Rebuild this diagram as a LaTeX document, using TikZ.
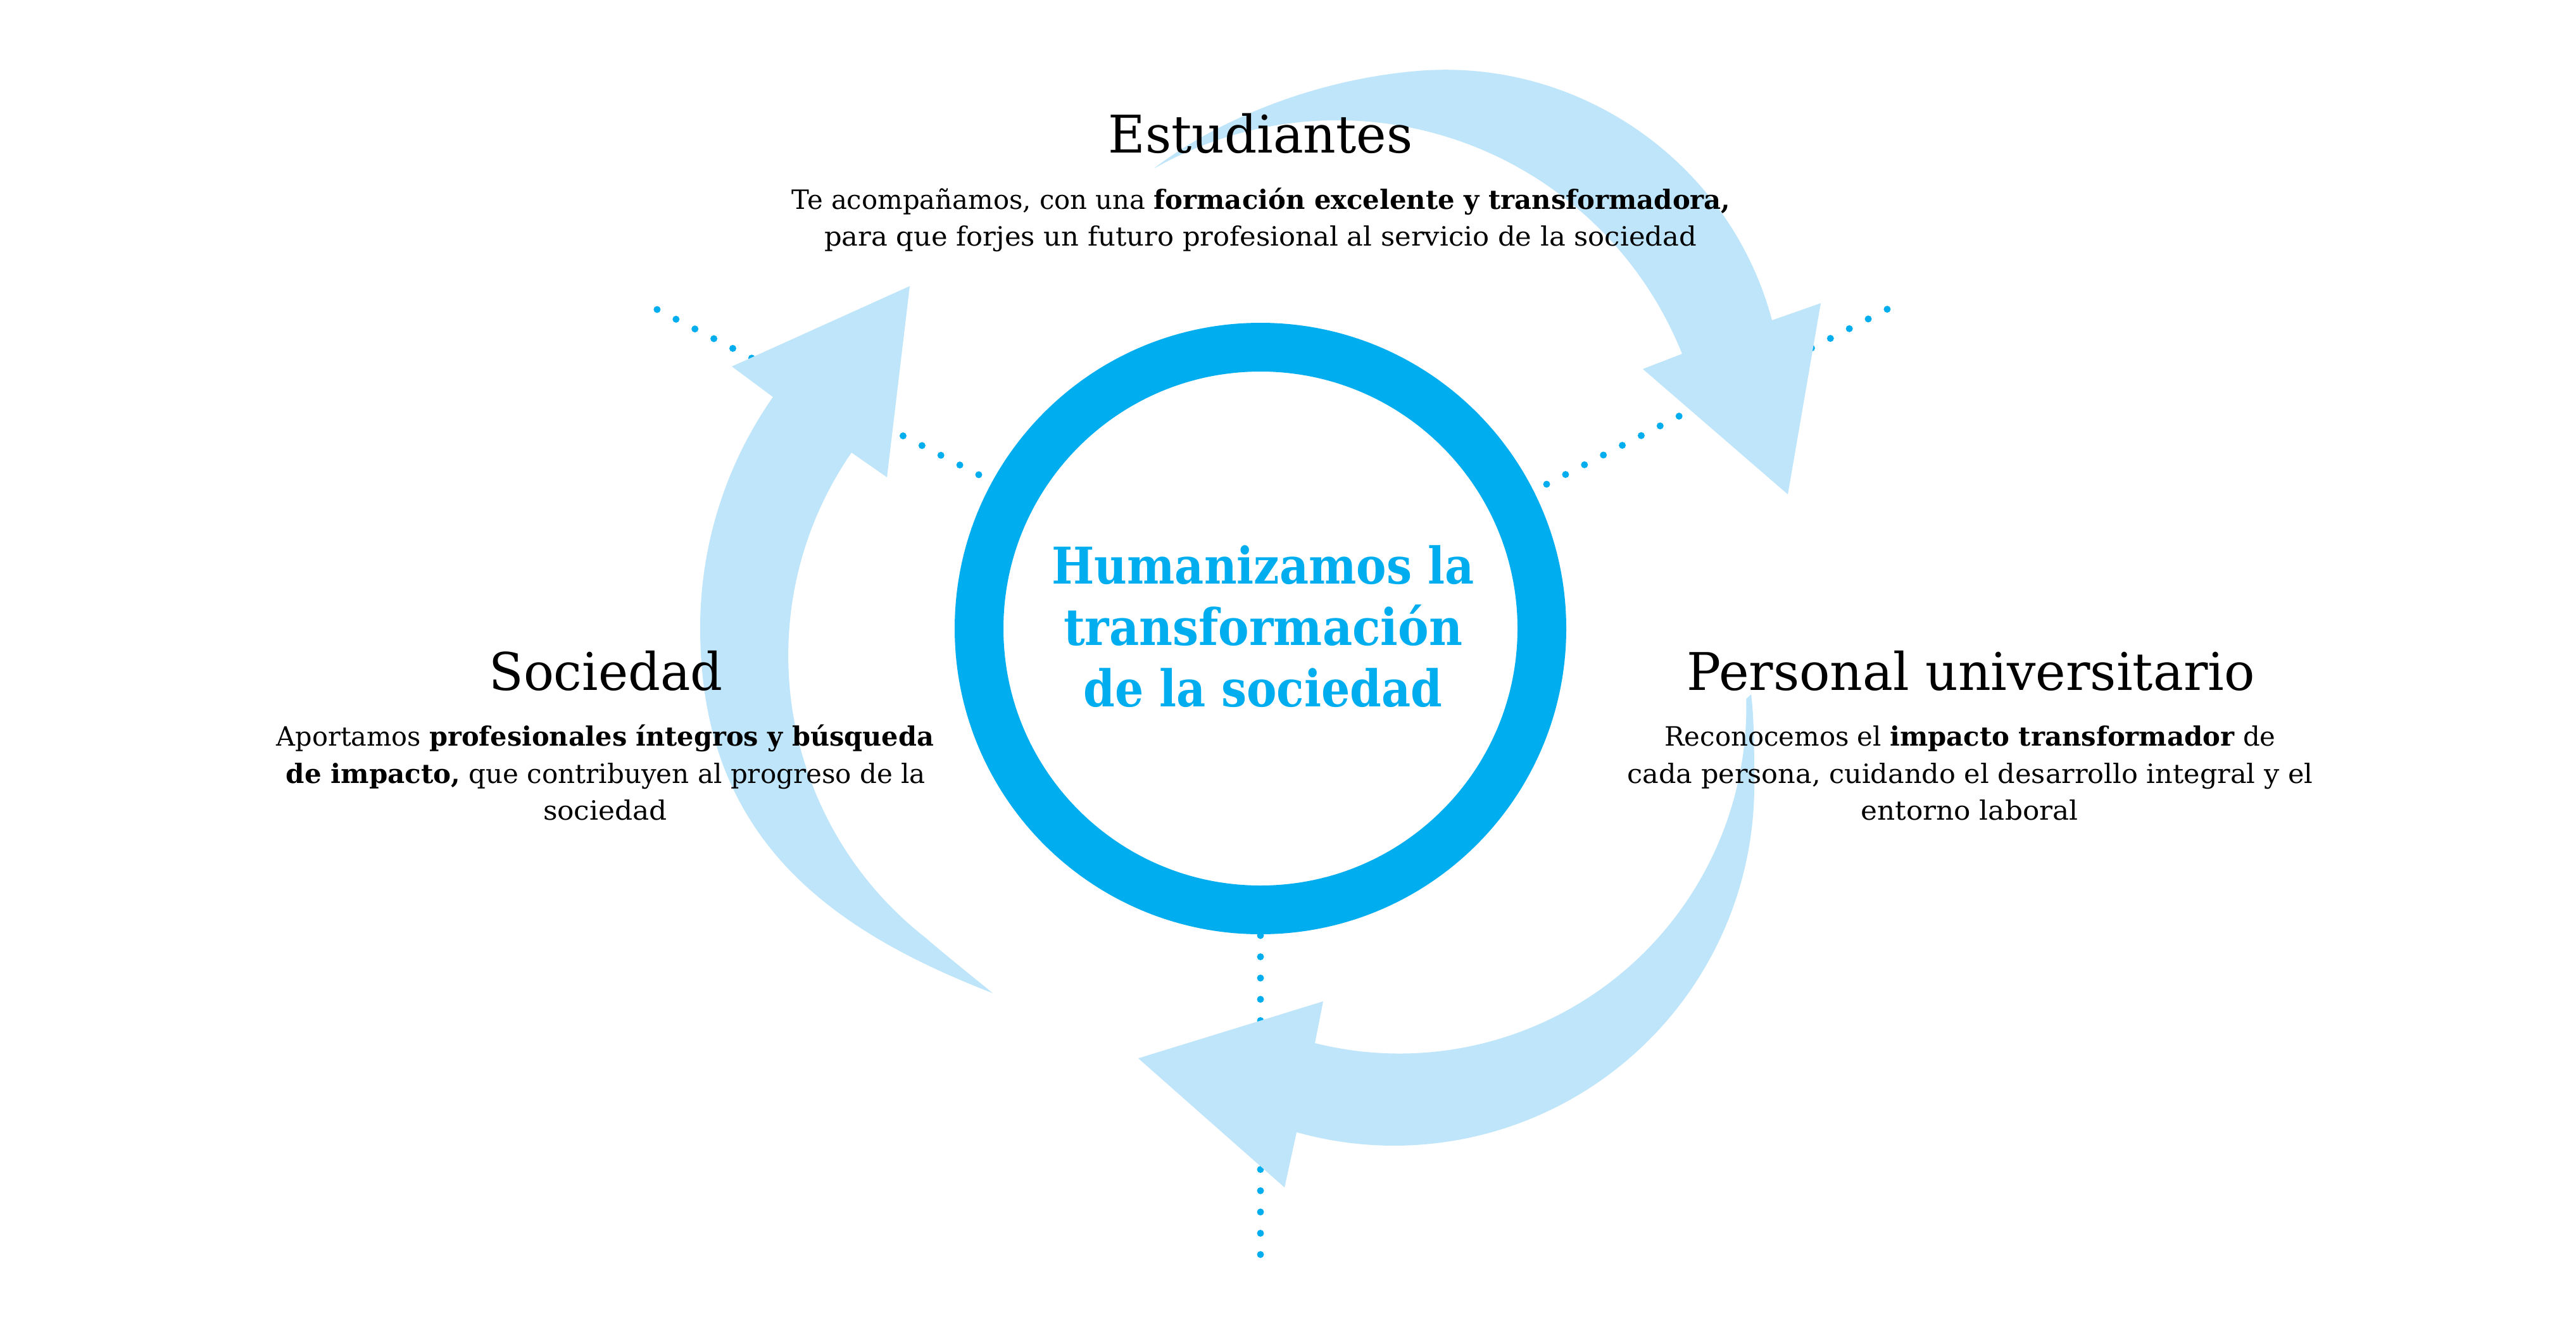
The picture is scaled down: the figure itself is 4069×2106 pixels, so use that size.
\documentclass[tikz,border=0pt]{standalone}
\usepackage{fontspec}
\usepackage{graphicx}
\setmainfont{DejaVu Serif}
\definecolor{ringblue}{HTML}{00AEEF}
\definecolor{arrowblue}{HTML}{BEE5F9}
\newcommand\fitline[2]{\resizebox{#1}{\height}{#2}}
\tikzset{
  headtext/.style={anchor=base, inner sep=0pt, text=black, font=\fontsize{82pt}{98pt}\selectfont},
  bodytext/.style={anchor=base, inner sep=0pt, text=black, font=\fontsize{42pt}{50pt}\selectfont},
  centertext/.style={anchor=base, inner sep=0pt, text=ringblue, font=\fontsize{80pt}{96pt}\selectfont\bfseries},
  dotline/.style={draw=ringblue, line width=11pt, line cap=round, dash pattern=on 0pt off 33.6pt},
  bigarrow/.style={fill=arrowblue},
  ring/.style={circle, draw=ringblue, line width=77pt, minimum size=889pt, inner sep=0pt, fill=white}
}
\begin{document}
\begin{tikzpicture}[x=1pt,y=-1pt]
\fill[white] (0,0) rectangle (4069,2106);
\useasboundingbox (0,0) rectangle (4069,2106);

% dotted radial lines
\coordinate (dl1) at (1546,750);  \coordinate (dl2) at (1036,488);
\coordinate (dr1) at (2443,765);  \coordinate (dr2) at (2983,487.5);
\coordinate (db1) at (1991,1478); \coordinate (db2) at (1991,1985);
\draw[dotline] (dl1) -- (dl2);
\draw[dotline] (dr1) -- (dr2);
\draw[dotline] (db1) -- (db2);

% top arrow (Estudiantes -> Personal universitario)
\fill[bigarrow] (1824,265) .. controls (1944,175) and (2100,123.5) .. (2240,112)
  .. controls (2496,91) and (2733,258) .. (2799,506)
  -- (2876,479) -- (2824,781) -- (2595,583) -- (2657,559)
  arc[start angle=-21.8, end angle=-119.4, radius=587] -- cycle;

% bottom arrow (Personal universitario -> Sociedad)
\fill[bigarrow] (2766,1097) .. controls (2771,1135) and (2771,1200) .. (2771,1241)
  arc[start angle=0, end angle=105.7, radius=569]
  -- (2029,1876) -- (1798,1672) -- (2090,1582) -- (2077,1648)
  arc[start angle=104.1, end angle=-1.3, radius=548] -- cycle;

% left arrow (Sociedad -> Estudiantes)
\fill[bigarrow] (1568,1569) .. controls (1307.6,1468) and (1106,1322) .. (1106,992)
  arc[start angle=180, end angle=215, radius=636]
  -- (1156,579) -- (1437,452) -- (1401,754) -- (1345,715)
  arc[start angle=214.56, end angle=128, radius=566]
  .. controls (1490,1506) and (1540,1546) .. (1568,1569) -- cycle;

% central ring
\node[ring] (ring) at (1991,993) {};

% central text
\node[centertext] (c1) at (1995,922)  {\fitline{667pt}{Humanizamos la}};
\node[centertext] (c2) at (1995,1019) {\fitline{630pt}{transformación}};
\node[centertext] (c3) at (1995,1116) {\fitline{567pt}{de la sociedad}};

% Estudiantes
\node[headtext] (esth) at (1991,241) {\fitline{481pt}{Estudiantes}};
\node[bodytext] (est1) at (1992,330) {\fitline{1483pt}{Te acompañamos, con una \textbf{formación excelente y transformadora,}}};
\node[bodytext] (est2) at (1991,388) {\fitline{1378pt}{para que forjes un futuro profesional al servicio de la sociedad}};

% Sociedad
\node[headtext] (soch) at (957,1090) {\fitline{369pt}{Sociedad}};
\node[bodytext] (soc1) at (956,1178) {\fitline{1038pt}{Aportamos \textbf{profesionales íntegros y búsqueda}}};
\node[bodytext] (soc2) at (957,1237) {\fitline{1010pt}{\textbf{de impacto,} que contribuyen al progreso de la}};
\node[bodytext] (soc3) at (956,1295) {\fitline{196pt}{sociedad}};

% Personal universitario
\node[headtext] (perh) at (3113,1090) {\fitline{897pt}{Personal universitario}};
\node[bodytext] (per1) at (3112,1178) {\fitline{965pt}{Reconocemos el \textbf{impacto transformador} de}};
\node[bodytext] (per2) at (3112,1237) {\fitline{1083pt}{cada persona, cuidando el desarrollo integral y el}};
\node[bodytext] (per3) at (3111,1295) {\fitline{343pt}{entorno laboral}};
\end{tikzpicture}
\end{document}
